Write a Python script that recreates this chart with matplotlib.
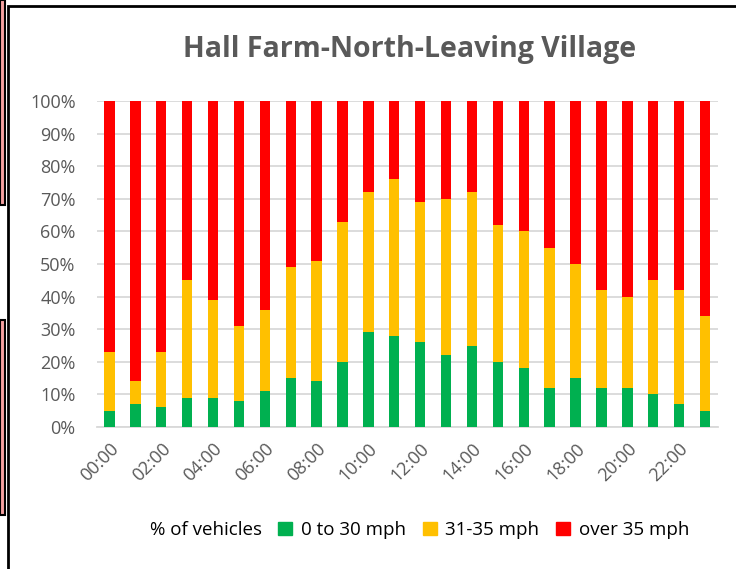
import matplotlib.pyplot as plt
from matplotlib.patches import Patch, Rectangle
from matplotlib.lines import Line2D
import numpy as np

hours = ["%02d:00" % h for h in range(24)]
slow = [5, 7, 6, 9, 9, 8, 11, 15, 14, 20, 29, 28, 26, 22, 25, 20, 18, 12, 15, 12, 12, 10, 7, 5]
mid_top = [23, 14, 23, 45, 39, 31, 36, 49, 51, 63, 72, 76, 69, 70, 72, 62, 60, 55, 50, 42, 40, 45, 42, 34]
mid = [t - s for t, s in zip(mid_top, slow)]
fast = [100 - t for t in mid_top]

green = "#00b050"
amber = "#ffc000"
red = "#ff0000"
grey = "#595959"

plt.rcParams['font.family'] = ['Open Sans', 'DejaVu Sans']

fig = plt.figure(figsize=(7.36, 5.69), dpi=100)
ax = fig.add_axes([96.5 / 736, 1 - 427 / 569, 621.5 / 736, 326 / 569])

x = np.arange(len(hours))
w = 0.4
ax.bar(x, slow, w, color=green, zorder=3)
ax.bar(x, mid, w, bottom=slow, color=amber, zorder=3)
ax.bar(x, fast, w, bottom=mid_top, color=red, zorder=3)

ax.set_xlim(-0.5, len(hours) - 0.5)
ax.set_ylim(0, 100)
ax.set_yticks(range(0, 101, 10))
ax.set_yticklabels(["%d%%" % v for v in range(0, 101, 10)], color=grey, fontsize=13)
ax.grid(axis="y", color="#d9d9d9", linewidth=1.3, zorder=0)
ax.set_xticks(x[::2])
ax.set_xticklabels(hours[::2], rotation=45, ha="right", rotation_mode="anchor",
                   color=grey, fontsize=13)
ax.tick_params(axis="y", length=0, pad=15)
ax.tick_params(axis="x", length=0, pad=9)
for s in ["top", "right", "left"]:
    ax.spines[s].set_visible(False)
ax.spines["bottom"].set_color("#d9d9d9")
ax.spines["bottom"].set_linewidth(1.3)

fig.text(410 / 736, 1 - 50 / 569, "Hall Farm-North-Leaving Village", ha="center", va="center",
         fontsize=20.5, fontweight="bold", color=grey)

handles = [Line2D([], [], linestyle="none"),
           Patch(color=green), Patch(color=amber), Patch(color=red)]
labels = ["% of vehicles", "0 to 30 mph", "31-35 mph", "over 35 mph"]
fig.legend(handles, labels, ncol=4, loc="center", bbox_to_anchor=(408 / 736, 1 - 530 / 569),
           frameon=False, fontsize=13.5, handlelength=0.75, handleheight=0.75,
           handletextpad=0.45, columnspacing=0.9, labelcolor="black")

# screenshot frame
fig.add_artist(Rectangle((8 / 736, -0.1), 1, 1 - 6 / 569 + 0.1, transform=fig.transFigure,
                         fill=False, edgecolor="black", linewidth=2))
for y0, y1 in [(0, 205), (320, 515)]:
    fig.add_artist(Rectangle((0, 1 - y1 / 569), 5 / 736, (y1 - y0) / 569,
                             transform=fig.transFigure, facecolor="#f4a0a0",
                             edgecolor="black", linewidth=1.5))

fig.savefig("out.png", dpi=100)
